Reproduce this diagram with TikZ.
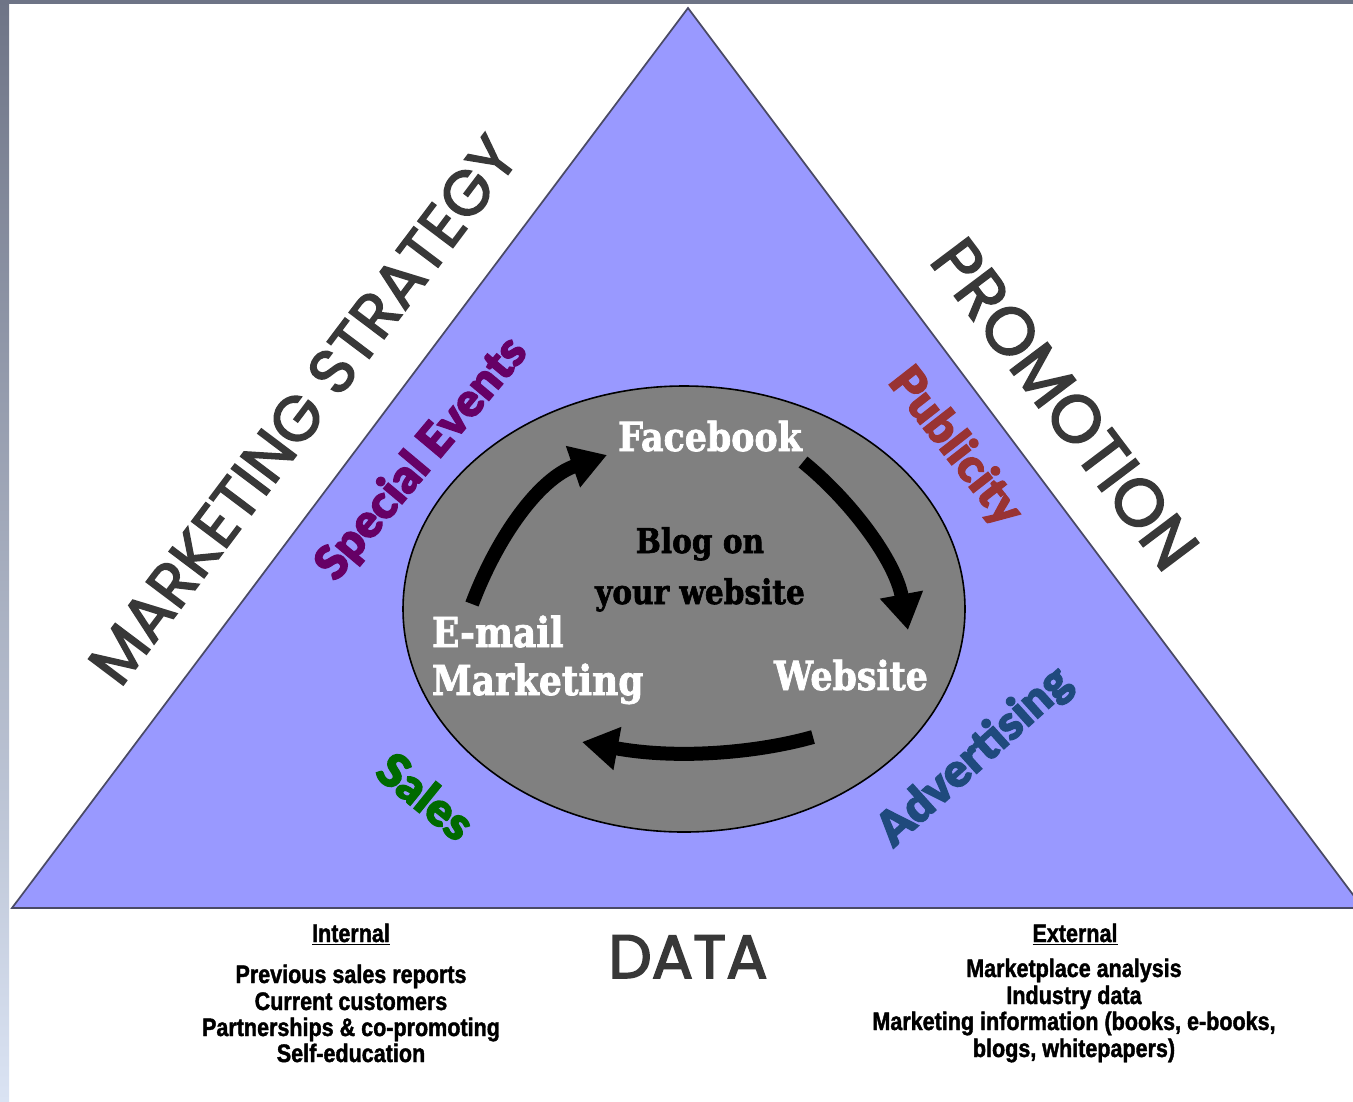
\documentclass[tikz,border=0pt]{standalone}
\usepackage{fontspec}
\setmainfont{Liberation Sans}
\newfontfamily\geo[FakeBold=2.5]{Poppins}
\newfontfamily\slab[FakeStretch=0.87,FakeBold=1.8]{DejaVu Serif}
\newfontfamily\heavy[FakeBold=2.5]{Lato Black}
\newfontfamily\narrowf[FakeStretch=0.85,FakeBold=1.5]{Liberation Sans}
\usetikzlibrary{arrows.meta,shapes.geometric}
\definecolor{trifill}{HTML}{9999FF}
\definecolor{triline}{HTML}{4A4A66}
\definecolor{hubfill}{HTML}{808080}
\definecolor{titlegray}{HTML}{383838}
\definecolor{evpurple}{HTML}{660066}
\definecolor{pubbrown}{HTML}{993333}
\definecolor{advblue}{HTML}{1F4A7D}
\definecolor{salgreen}{HTML}{006A00}
\definecolor{stripA}{HTML}{6E7486}
\definecolor{stripB}{HTML}{A9B5CC}
\definecolor{stripC}{HTML}{DAE3F3}
\begin{document}
\begin{tikzpicture}[x=0.75pt,y=-0.75pt,
  every node/.style={inner sep=0pt, outer sep=0pt},
  sidetitle/.style={text=titlegray, font=\geo\fontsize{47}{52}\selectfont},
  slabwhite/.style={text=white, font=\slab\bfseries\fontsize{30}{36}\selectfont},
  slabblack/.style={text=black, font=\slab\bfseries\fontsize{25.5}{30}\selectfont},
  heavylabel/.style={font=\heavy\fontsize{35}{40}\selectfont},
  datatext/.style={text=black, font=\narrowf\bfseries\fontsize{19}{22}\selectfont},
  flow/.style={line width=10.5pt, draw=black, -{Triangle[width=31pt,length=27pt]}},
  hubshape/.style={ellipse, draw=black, line width=1.2pt, fill=hubfill,
    minimum width=421.5pt, minimum height=334.5pt}
]
\useasboundingbox (0,0) rectangle (1353,1101);
\fill[white] (0,0) rectangle (1353,1101);
% left strip and top bar
\shade[top color=stripA, middle color=stripB, bottom color=stripC] (0,0) rectangle (9,1101);
\fill[stripA] (0,0) rectangle (1353,4);
% triangle
\draw[fill=trifill, draw=triline, line width=1.3pt, line join=miter]
  (688,8) -- (1363,908) -- (12,908) -- cycle;
% side titles
\node[sidetitle, rotate=53] (strategy) at (303,410) {MARKETING STRATEGY};
\node[sidetitle, rotate=-53, font=\geo\fontsize{50}{55}\selectfont] (promotion) at (1065,404) {PROMOTION};
\node[sidetitle, anchor=base, font=\geo\fontsize{46}{50}\selectfont] (data) at (688,978) {DATA};
% inner labels
\node[heavylabel, text=evpurple, rotate=50] (events) at (422,459) {Special Events};
\node[heavylabel, text=pubbrown, rotate=-52] (publicity) at (955,447) {Publicity};
\node[heavylabel, text=advblue, rotate=42] (advertising) at (975,757) {Advertising};
\node[heavylabel, text=salgreen, rotate=-39] (sales) at (426,796) {Sales};
% hub
\node[hubshape] (hub) at (684,609) {};
\node[slabwhite, anchor=base] (facebook) at (710,451) {Facebook};
\node[slabblack, anchor=base] (blog1) at (700,553) {Blog on};
\node[slabblack, anchor=base] (blog2) at (700,604) {your website};
\node[slabwhite, anchor=base west, font=\slab\bfseries\fontsize{31}{36}\selectfont] (email1) at (432,647) {E-mail};
\node[slabwhite, anchor=base west, font=\slab\bfseries\fontsize{31}{36}\selectfont] (email2) at (432,695) {Marketing};
\node[slabwhite, anchor=base] (website) at (851,690) {Website};
% cycle arrows
\coordinate (a1s) at (472,604);
\coordinate (a1e) at (607,455);
\coordinate (a2s) at (803,462);
\coordinate (a2e) at (908,630);
\coordinate (a3s) at (813,737);
\coordinate (a3e) at (582,742);
\draw[flow] (a1s) .. controls (498,535) and (540,478) .. (a1e);
\draw[flow] (a2s) .. controls (850,500) and (895,560) .. (a2e);
\draw[flow] (a3s) .. controls (760,752) and (680,760) .. (a3e);
% data lists
\node[datatext, anchor=base] (inthead) at (351,942) {\underline{Internal}};
\node[datatext, anchor=base] (int1) at (351,983) {Previous sales reports};
\node[datatext, anchor=base] (int2) at (351,1010) {Current customers};
\node[datatext, anchor=base] (int3) at (351,1036) {Partnerships \& co-promoting};
\node[datatext, anchor=base] (int4) at (351,1062) {Self-education};
\node[datatext, anchor=base] (exthead) at (1075,942) {\underline{External}};
\node[datatext, anchor=base] (ext1) at (1074,977) {Marketplace analysis};
\node[datatext, anchor=base] (ext2) at (1074,1004) {Industry data};
\node[datatext, anchor=base] (ext3) at (1074,1030) {Marketing information (books, e-books,};
\node[datatext, anchor=base] (ext4) at (1074,1057) {blogs, whitepapers)};
\end{tikzpicture}
\end{document}
